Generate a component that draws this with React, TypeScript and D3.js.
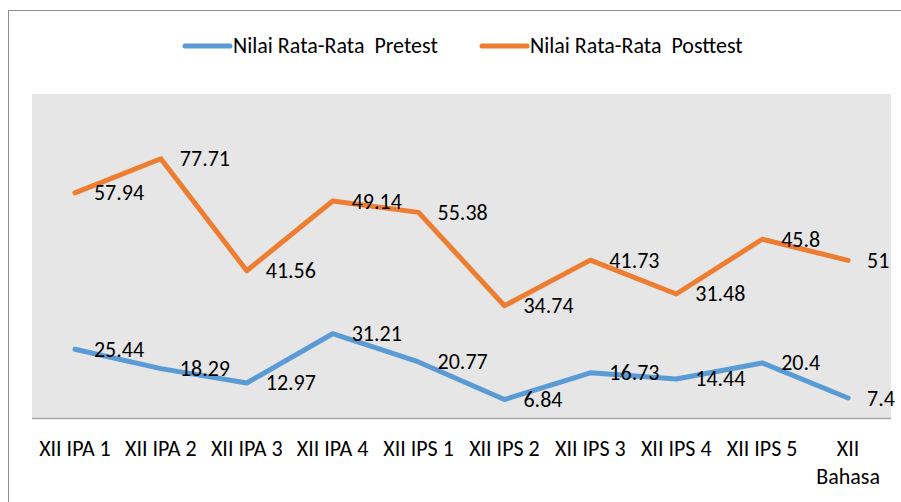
import { useMemo } from 'react';
import * as d3 from 'd3';

const categories = ['XII IPA 1', 'XII IPA 2', 'XII IPA 3', 'XII IPA 4', 'XII IPS 1', 'XII IPS 2', 'XII IPS 3', 'XII IPS 4', 'XII IPS 5', 'XII Bahasa'];
const pretest = [25.44, 18.29, 12.97, 31.21, 20.77, 6.84, 16.73, 14.44, 20.4, 7.4];
const posttest = [57.94, 77.71, 41.56, 49.14, 55.38, 34.74, 41.73, 31.48, 45.8, 51];
const seriesNames = ['Nilai Rata-Rata  Pretest', 'Nilai Rata-Rata  Posttest'];
const colors = ['#5b9bd5', '#ed7d31'];

const W = 901;
const H = 502;
const plot = { left: 32, right: 891, top: 94, bottom: 418 };
const FONT = "Carlito, Calibri, 'Liberation Sans', Arial, sans-serif";
const FS = 22;

// split a category label into lines that fit the band
function wrap(label: string, maxWidth: number, fontSize: number): string[] {
  const canvas = document.createElement('canvas');
  const ctx = canvas.getContext('2d');
  if (!ctx) return [label];
  ctx.font = `${fontSize}px ${FONT}`;
  const words = label.split(' ');
  const lines: string[] = [];
  let cur = '';
  for (const w of words) {
    const test = cur ? cur + ' ' + w : w;
    if (cur && ctx.measureText(test).width > maxWidth) {
      lines.push(cur);
      cur = w;
    } else {
      cur = test;
    }
  }
  if (cur) lines.push(cur);
  return lines;
}

const App = () => {
  const table = categories.map((c, i) => ({ cat: c, pre: pretest[i], post: posttest[i] }));

  const x = d3.scaleBand<string>().domain(categories).range([plot.left, plot.right]).padding(0);
  const y = d3.scaleLinear().domain([0, 120]).range([plot.bottom, plot.top]);

  // stacked line chart, as in the original
  const stacked = d3.stack<any>().keys(['pre', 'post'])(table);

  const cx = (c: string) => (x(c) as number) + x.bandwidth() / 2;

  const lineGen = d3
    .line<any>()
    .x((d) => cx(d.data.cat))
    .y((d) => y(d[1]));

  const wrapped = useMemo(() => categories.map((c) => wrap(c, x.bandwidth() - 4, FS)), []);

  const legendX = [185, 482];

  return (
    <svg width={W} height={H} style={{ position: 'absolute', left: 0, top: 0, fontFamily: FONT }}>
      <rect x={0} y={0} width={W} height={H} fill="#fff" />
      <rect x={8.5} y={10.5} width={W} height={H} fill="none" stroke="#8c8c8c" strokeWidth={1} />

      {/* legend */}
      {seriesNames.map((name, i) => (
        <g key={name}>
          <line x1={legendX[i]} x2={legendX[i] + 45} y1={46} y2={46} stroke={colors[i]} strokeWidth={5} strokeLinecap="round" />
          <text x={legendX[i] + 48} y={53} fontSize={FS} fill="#000" style={{ whiteSpace: 'pre' }}>
            {name}
          </text>
        </g>
      ))}

      {/* plot area */}
      <rect x={plot.left} y={plot.top} width={plot.right - plot.left} height={plot.bottom - plot.top} fill="#e6e6e6" />
      <line x1={plot.left} x2={plot.right} y1={plot.bottom + 0.5} y2={plot.bottom + 0.5} stroke="#a6a6a6" strokeWidth={1.5} />

      {stacked.map((s, i) => (
        <path key={s.key} d={lineGen(s as any) || ''} fill="none" stroke={colors[i]} strokeWidth={5} strokeLinejoin="round" strokeLinecap="round" />
      ))}

      {stacked.map((s, i) =>
        s.map((d: any) => (
          <text key={s.key + d.data.cat} x={cx(d.data.cat) + 19} y={y(d[1])} dy="0.34em" fontSize={FS} fill="#000">
            {i === 0 ? d.data.pre : d.data.post}
          </text>
        ))
      )}

      {/* category axis */}
      {categories.map((c, i) => (
        <text key={c} x={cx(c)} y={456} fontSize={FS} textAnchor="middle" fill="#000">
          {wrapped[i].map((ln, j) => (
            <tspan key={j} x={cx(c)} dy={j === 0 ? 0 : 28}>
              {ln}
            </tspan>
          ))}
        </text>
      ))}
    </svg>
  );
};

export default App;
